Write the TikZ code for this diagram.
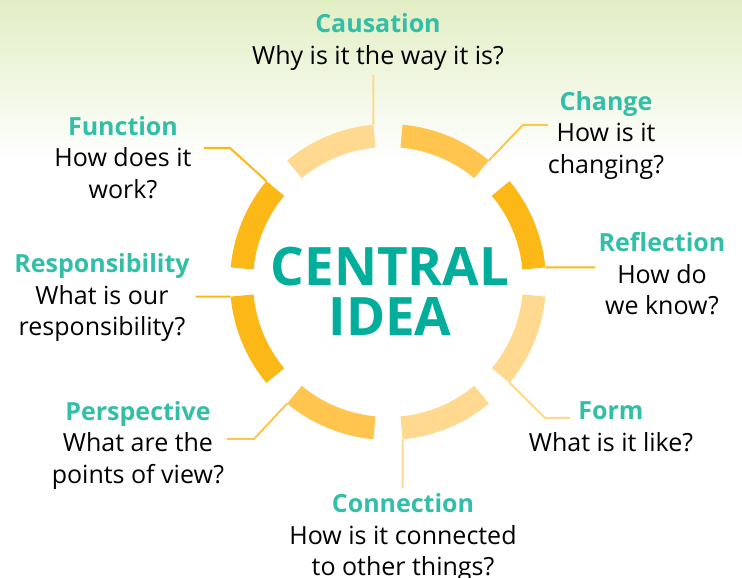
\documentclass[tikz,border=0pt]{standalone}
\usepackage{fontspec}
\setmainfont{Open Sans}
\usetikzlibrary{positioning}
\definecolor{mteal}{RGB}{51,190,168}
\definecolor{mdeep}{RGB}{0,174,155}
\definecolor{mlight}{RGB}{255,217,144}
\definecolor{mmid}{RGB}{255,197,79}
\definecolor{mdark}{RGB}{251,184,23}
\definecolor{mgreen}{RGB}{226,238,196}
\tikzset{askbox/.style = {align=center, inner sep=0pt,
                          font=\fontsize{25}{31.5}\selectfont},
         spoke/.style  = {line width=2pt}}
\newcommand{\ttl}[1]{{\color{mteal}\bfseries #1}}

\begin{document}
\begin{tikzpicture}[x=1pt, y=1pt]
    \shade [top color=mgreen, bottom color=white] (-388, 282) rectangle (354, 120);
    \useasboundingbox (-388, -296) rectangle (354, 282);

    \foreach \a/\c in {0/mdark, 45/mmid, 90/mlight, 135/mdark,
                       180/mdark, 225/mmid, 270/mlight, 315/mlight}
      \fill [\c] (\a+5.3:158) arc [start angle=\a+5.3, end angle=\a+39.7, radius=158]
            -- (\a+39.7:135) arc [start angle=\a+39.7, end angle=\a+5.3, radius=135] -- cycle;

    \node [align=center, text=mdeep, font=\bfseries\fontsize{53}{50}\selectfont] (idea) at (2, -9) {CENTRAL\\IDEA};

    \coordinate (causeEnd)  at (95.3:158);
    \coordinate (changeEnd) at (50.3:158);
    \coordinate (reflEnd)   at (5.3:158);
    \coordinate (formEnd)   at (320.3:158);
    \coordinate (connEnd)   at (275.3:158);
    \coordinate (perspEnd)  at (230.3:158);
    \coordinate (respEnd)   at (185.3:158);
    \coordinate (funcEnd)   at (140.3:158);

    \node [askbox] (cause)  at (-10, 240)   {\ttl{Causation}\\Why is it the way it is?};
    \node [askbox] (change) at (218, 146.5) {\ttl{Change}\\How is it\\changing?};
    \node [askbox] (refl)   at (274, 8)     {\ttl{Reflection}\\How do\\we know?};
    \node [askbox] (form)   at (223, -145)  {\ttl{Form}\\What is it like?};
    \node [askbox] (conn)   at (15, -256)   {\ttl{Connection}\\How is it connected\\to other things?};
    \node [askbox] (persp)  at (-250, -163.5) {\ttl{Perspective}\\What are the\\points of view?};
    \node [askbox] (resp)   at (-286, -16)  {\ttl{Responsibility}\\What is our\\responsibility?};
    \node [askbox] (func)   at (-265, 124.5) {\ttl{Function}\\How does it\\work?};

    \coordinate (causeTip)   at (-14.6, 207);
    \coordinate (changeBend) at (135, 157);
    \coordinate (changeTip)  at (160, 157);
    \coordinate (reflTip)    at (207, 14.6);
    \coordinate (formBend)   at (157, -136);
    \coordinate (formTip)    at (182, -136);
    \coordinate (connTip)    at (14.6, -206);
    \coordinate (perspBend)  at (-134, -157);
    \coordinate (perspTip)   at (-161, -157);
    \coordinate (respTip)    at (-192, -14.6);
    \coordinate (funcBend)   at (-158, 134);
    \coordinate (funcTip)    at (-184, 134);

    \draw [spoke, mlight] (causeEnd) -- (causeTip);
    \draw [spoke, mmid]   (changeEnd) -- (changeBend) -- (changeTip);
    \draw [spoke, mdark]  (reflEnd) -- (reflTip);
    \draw [spoke, mlight] (formEnd) -- (formBend) -- (formTip);
    \draw [spoke, mlight] (connEnd) -- (connTip);
    \draw [spoke, mmid]   (perspEnd) -- (perspBend) -- (perspTip);
    \draw [spoke, mdark]  (respEnd) -- (respTip);
    \draw [spoke, mdark]  (funcEnd) -- (funcBend) -- (funcTip);
\end{tikzpicture}
\end{document}
